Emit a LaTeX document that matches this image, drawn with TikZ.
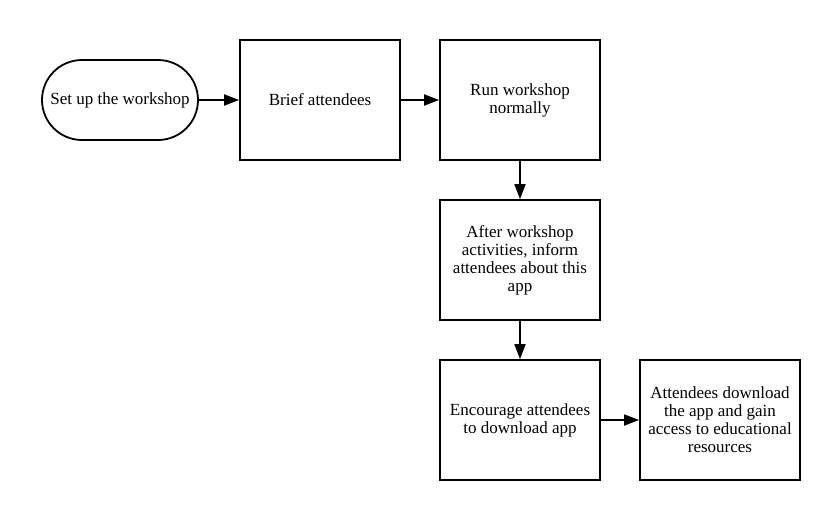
\documentclass[tikz,border=0pt]{standalone}
\usepackage{fontspec}
\setmainfont{Liberation Serif}
\usetikzlibrary{positioning,arrows.meta,shapes.misc}
\hyphenpenalty=10000
\tikzset{
  stepbox/.style={draw,line width=1.8pt,outer sep=0pt,minimum width=160pt,minimum height=120pt,
    text width=146pt,align=flush center,inner sep=2pt,font=\fontsize{17}{18}\selectfont},
  startbox/.style={draw,line width=1.8pt,outer sep=0pt,rounded rectangle,minimum width=160pt,
    minimum height=80pt,inner sep=2pt,font=\fontsize{17}{18}\selectfont},
  flow/.style={-{Triangle[length=15pt,width=11pt]},line width=1.8pt,shorten >=0.9pt}
}
\begin{document}
\begin{tikzpicture}[x=1pt,y=1pt]
\useasboundingbox (0,0) rectangle (840,-520);
\node[startbox] (setup) at (120,-100) {Set up the workshop};
\node[stepbox] (brief) at (320,-100) {Brief attendees};
\node[stepbox,right=40pt of brief] (run) {Run workshop normally};
\node[stepbox,below=40pt of run] (inform) {After workshop activities, inform attendees about this app};
\node[stepbox,below=40pt of inform] (encourage) {Encourage attendees to download app};
\node[stepbox,right=40pt of encourage] (download) {Attendees download the app and gain access to educational resources};
\draw[flow] (setup) -- (brief);
\draw[flow] (brief) -- (run);
\draw[flow] (run) -- (inform);
\draw[flow] (inform) -- (encourage);
\draw[flow] (encourage) -- (download);
\end{tikzpicture}
\end{document}
